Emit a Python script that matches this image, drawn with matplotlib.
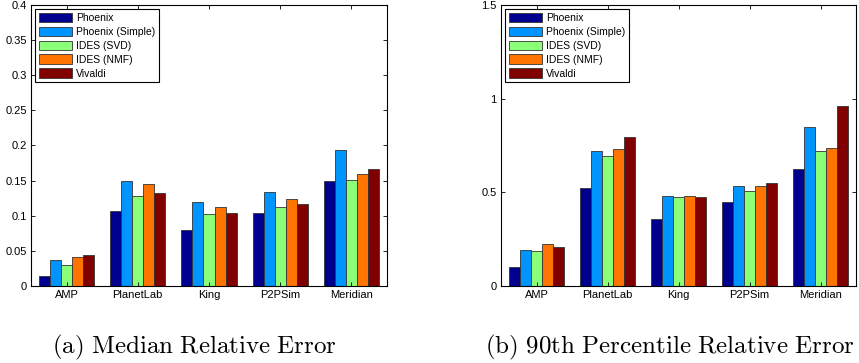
import numpy as np
import matplotlib
matplotlib.use("Agg")
import matplotlib.pyplot as plt

plt.rcParams["font.family"] = ["Liberation Sans", "DejaVu Sans"]
plt.rcParams["mathtext.fontset"] = "cm"

datasets = ["AMP", "PlanetLab", "King", "P2PSim", "Meridian"]
methods = ["Phoenix", "Phoenix (Simple)", "IDES (SVD)", "IDES (NMF)", "Vivaldi"]
colors = ["#00008F", "#0094FF", "#8CFF78", "#FF7400", "#800000"]

# rows = methods, cols = datasets
median_err = [
    [0.0143, 0.107, 0.0798, 0.1036, 0.1496],
    [0.0375, 0.1496, 0.119, 0.1344, 0.194],
    [0.0295, 0.1287, 0.103, 0.112, 0.151],
    [0.041, 0.145, 0.1126, 0.1245, 0.1596],
    [0.0437, 0.132, 0.1036, 0.1173, 0.167],
]
p90_err = [
    [0.1015, 0.524, 0.358, 0.449, 0.625],
    [0.192, 0.723, 0.481, 0.533, 0.850],
    [0.185, 0.695, 0.474, 0.508, 0.722],
    [0.223, 0.730, 0.483, 0.533, 0.738],
    [0.208, 0.795, 0.476, 0.549, 0.962],
]


def draw(ax, data, ylim, yticks, ytick_labels):
    x = np.arange(1, len(datasets) + 1)
    w = 0.155
    for i, (name, vals) in enumerate(zip(methods, data)):
        ax.bar(x + (i - 2) * w, vals, width=w, color=colors[i],
               edgecolor="#333333", linewidth=0.6, label=name)
    ax.set_xlim(0.5, 5.5)
    ax.set_ylim(*ylim)
    ax.set_xticks(x)
    ax.set_xticklabels(datasets)
    ax.set_yticks(yticks)
    ax.set_yticklabels(ytick_labels)
    ax.tick_params(direction="in", length=3, width=0.6, labelsize=8,
                   top=True, right=True, pad=3)
    for s in ax.spines.values():
        s.set_linewidth(0.8)
    leg = ax.legend(loc="upper left", fontsize=7.5, frameon=True, fancybox=False,
                    borderaxespad=0.4, handlelength=3.2, handleheight=1.0,
                    labelspacing=0.35, borderpad=0.35, handletextpad=0.35)
    leg.get_frame().set_edgecolor("black")
    leg.get_frame().set_linewidth(0.8)
    leg.get_frame().set_alpha(1)


fig = plt.figure(figsize=(8.59, 3.63), dpi=100)
ax1 = fig.add_axes([31 / 859, 1 - 286 / 363, 356 / 859, 281 / 363])
ax2 = fig.add_axes([501 / 859, 1 - 286 / 363, 355 / 859, 281 / 363])

draw(ax1, median_err, (0, 0.4), np.arange(0, 0.41, 0.05),
     ["0", "0.05", "0.1", "0.15", "0.2", "0.25", "0.3", "0.35", "0.4"])
draw(ax2, p90_err, (0, 1.5), [0, 0.5, 1, 1.5], ["0", "0.5", "1", "1.5"])

fig.text(194 / 859, 1 - 353 / 363, r"$\mathrm{(a)\ Median\ Relative\ Error}$",
         ha="center", va="baseline", fontsize=18)
fig.text(670 / 859, 1 - 353 / 363,
         r"$\mathrm{(b)\ 90th\ Percentile\ Relative\ Error}$",
         ha="center", va="baseline", fontsize=18)

fig.savefig("out.png", dpi=100)
